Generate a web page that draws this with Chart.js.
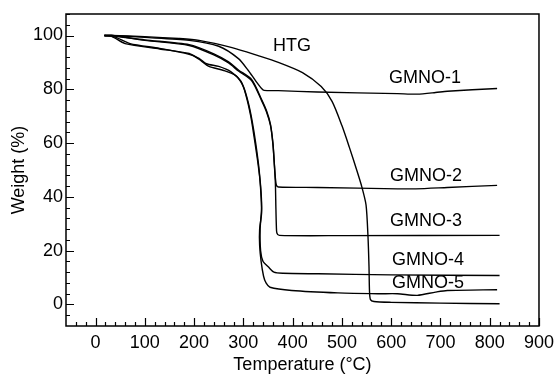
<!DOCTYPE html>
<html><head><meta charset="utf-8">
<script src="https://cdn.jsdelivr.net/npm/chart.js@4"></script>
<style>html,body{margin:0;padding:0;background:#fff}</style>
</head><body>
<canvas id="c" width="560" height="376"></canvas>
<script>
// ---- data ----
const xTicks = [0,100,200,300,400,500,600,700,800,900];
const yTicks = [0,20,40,60,80,100];

const htgT = [18,32,100,169,210,277,330,371,420,458,480,500,515,530,540,549,553,555,556,558,565,600,700,820];
const htgW = [100,100,99.6,98.9,98.2,95.5,92.5,90,86.2,81,75.5,66.5,58.5,50,44,37,25,14,5,1.8,1.1,0.8,0.5,0.3];

const g1T = [18,32,100,190,250,290,310,324,337,342,371,450,613,653,690,714,815];
const g1W = [100,100,99.3,98.2,96,91.4,87,83.4,80.3,79.6,79.5,79,78.4,78.2,78.8,79.3,80.3];

const g2T = [18,32,100,190,240,270,290,317,337,347,355,360,363,365,367,371,450,613,650,714,815];
const g2W = [100,100,98.4,96.6,93.2,90.2,87.2,83.6,76.2,72,67,60,52,47,44.3,43.7,43.5,43.0,43.0,43.5,44.3];

const g3T = [18,32,100,190,240,270,290,317,337,347,355,360,363,365,366,367,368,373,500,820];
const g3W = [100,100,98.2,96.3,92.8,89.8,86.8,83.2,75.8,71.6,66.6,59.6,51.6,45,36,29,26.6,25.7,25.6,25.7];

const g4T = [18,40,70,130,190,210,225,250,275,295,305,315,322,330,335,337,334,335,340,351,362,380,452,600,820];
const g4W = [100,99.4,97,95.2,93,91.5,89.5,88.5,86.5,83,78,70,62,52,44,36,28,20,16,13.9,12,11.6,11.4,11.0,10.8];

const g5T = [18,32,60,130,190,215,230,260,285,300,310,318,325,332,336,337,333,333,336,341,346,354,398,492,573,613,653,690,714,815];
const g5W = [100,99.8,97,95,93.3,90.5,88.5,87,85,81,75,68,60,50,40,34,28,22,16,10.5,8,6.4,5.2,4.3,4.0,4.0,3.4,4.6,5.2,5.5];

const seriesNames = ['HTG','GMNO-1','GMNO-2','GMNO-3','GMNO-4','GMNO-5'];
const labelT = [360,595.5,597.5,597.5,601.6,601.6];
const labelW = [96.1,84.1,47.6,30.9,16.7,7.8];

const xMin = -60, xMax = 900, yMin = -8, yMax = 108;
const xMinorStep = 20, yMinorStep = 4;

// ---- build ----
const FONT = "'Liberation Sans', Arial, sans-serif";
const pairs = (t, w) => t.map((v, i) => ({x: v, y: w[i]}));
const allT = [htgT, g1T, g2T, g3T, g4T, g5T];
const allW = [htgW, g1W, g2W, g3W, g4W, g5W];

const datasets = seriesNames.map((n, i) => ({
  label: n,
  data: pairs(allT[i], allW[i]),
  borderColor: '#000',
  borderWidth: 1.4,
  pointRadius: 0,
  tension: 0.25,
  fill: false
}));

const framePlugin = {
  id: 'frame',
  afterDatasetsDraw(chart) {
    const ctx = chart.ctx, a = chart.chartArea;
    const xs = chart.scales.x, ys = chart.scales.y;
    ctx.save();
    ctx.strokeStyle = '#000';
    ctx.lineWidth = 1.5;
    ctx.strokeRect(a.left, a.top, a.right - a.left, a.bottom - a.top);
    ctx.lineWidth = 1.2;
    ctx.beginPath();
    for (let v = -40; v <= xMax; v += xMinorStep) {
      const px = Math.round(xs.getPixelForValue(v)) + 0.5;
      const len = (v % 100 === 0) ? 8 : 4;
      ctx.moveTo(px, a.bottom); ctx.lineTo(px, a.bottom - len);
    }
    for (let v = -4; v <= yMax; v += yMinorStep) {
      const py = Math.round(ys.getPixelForValue(v)) + 0.5;
      const len = (v % 20 === 0) ? 8 : 4;
      ctx.moveTo(a.left, py); ctx.lineTo(a.left + len, py);
    }
    ctx.stroke();
    // series labels
    ctx.fillStyle = '#000';
    ctx.font = '18px ' + FONT;
    ctx.textAlign = 'left';
    ctx.textBaseline = 'middle';
    seriesNames.forEach((n, i) => {
      ctx.fillText(n, xs.getPixelForValue(labelT[i]), ys.getPixelForValue(labelW[i]));
    });
    ctx.restore();
  }
};

new Chart(document.getElementById('c'), {
  type: 'line',
  data: { datasets },
  options: {
    responsive: false,
    animation: false,
    layout: { padding: { top: 14, right: 17, left: 0, bottom: 0 } },
    plugins: { legend: { display: false }, tooltip: { enabled: false } },
    scales: {
      x: {
        type: 'linear', min: xMin, max: xMax,
        grid: { display: false, drawTicks: false },
        border: { display: false },
        afterBuildTicks: s => { s.ticks = xTicks.map(v => ({value: v})); },
        afterFit: s => { s.height = 50; },
        ticks: { color: '#000', font: { family: FONT, size: 18 }, padding: 6, maxRotation: 0, autoSkip: false },
        title: { display: true, text: 'Temperature (°C)', color: '#000', font: { family: FONT, size: 18 }, padding: { top: 0, bottom: 0 } }
      },
      y: {
        type: 'linear', min: yMin, max: yMax,
        grid: { display: false, drawTicks: false },
        border: { display: false },
        afterBuildTicks: s => { s.ticks = yTicks.map(v => ({value: v})); },
        afterFit: s => { s.width = 66; },
        ticks: { color: '#000', font: { family: FONT, size: 18 }, padding: 3, autoSkip: false },
        title: { display: true, text: 'Weight (%)', color: '#000', font: { family: FONT, size: 18 }, padding: { top: 8, bottom: 0 } }
      }
    }
  },
  plugins: [framePlugin]
});
</script>
</body></html>
